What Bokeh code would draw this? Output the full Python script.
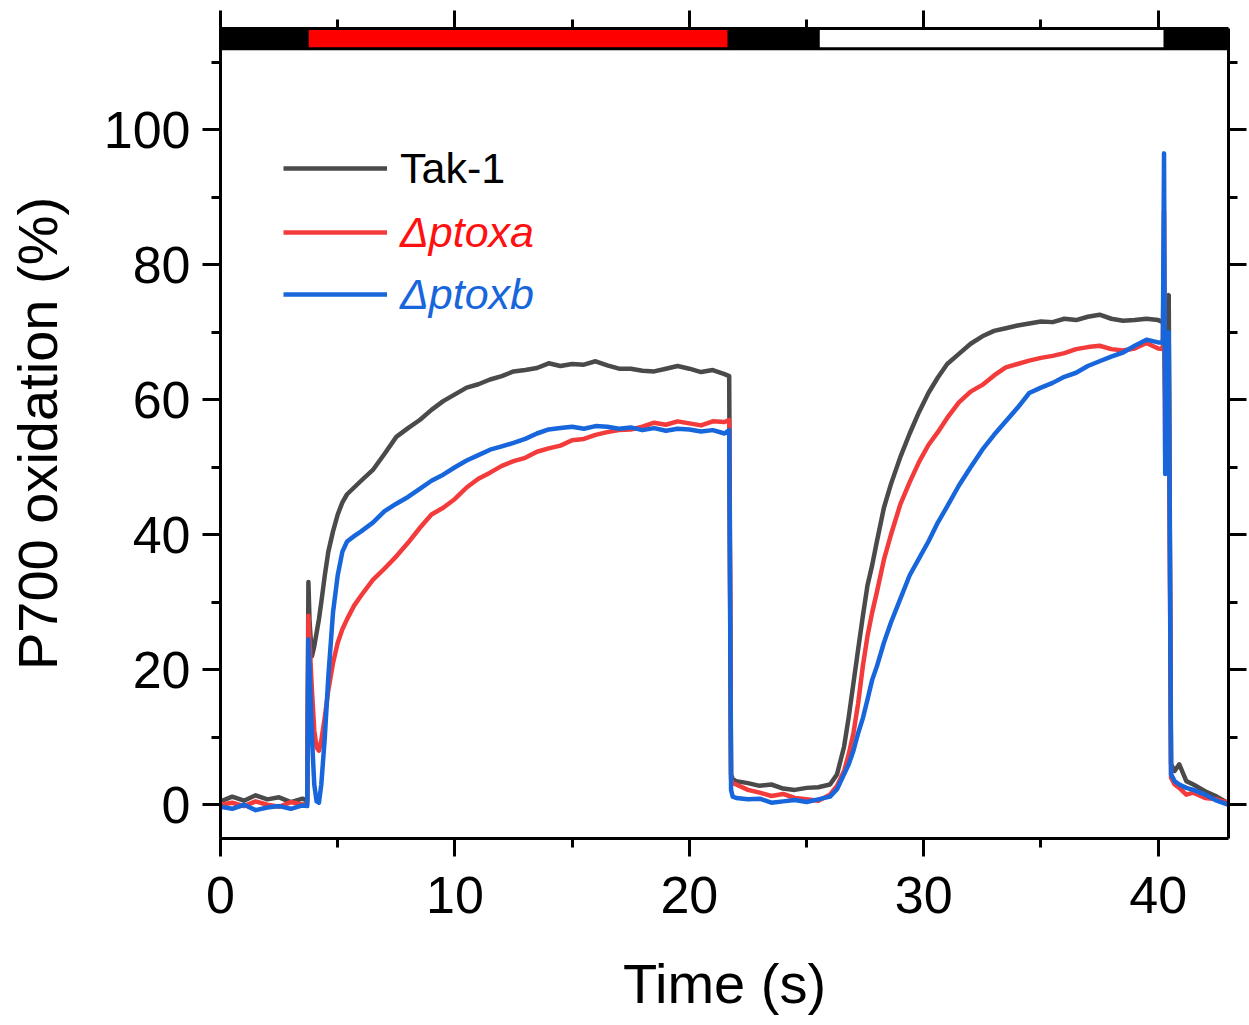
from bokeh.plotting import figure
from bokeh.models import (LinearAxis, SingleIntervalTicker, Legend, LegendItem,
                          Range1d, ColumnDataSource)
from bokeh.embed import file_html
from bokeh.resources import INLINE

# ---------------- data ----------------
time_s = [0.0, 0.5, 1.0, 1.5, 2.0, 2.5, 3.0, 3.5, 3.7, 3.75,
          3.8, 3.9, 4.0, 4.1, 4.2, 4.3, 4.45, 4.6, 4.8, 5.0,
          5.2, 5.4, 5.7, 6.0, 6.5, 7.0, 7.5, 8.0, 8.5, 9.0,
          9.5, 10.0, 10.5, 11.0, 11.5, 12.0, 12.5, 13.0, 13.5, 14.0,
          14.5, 15.0, 15.5, 16.0, 16.5, 17.0, 17.5, 18.0, 18.5, 19.0,
          19.5, 20.0, 20.5, 21.0, 21.5, 21.7, 21.78, 21.85, 22.0, 22.5,
          23.0, 23.5, 24.0, 24.5, 25.0, 25.5, 26.0, 26.3, 26.6, 26.8,
          27.0, 27.2, 27.4, 27.6, 27.8, 28.0, 28.3, 28.6, 29.0, 29.4,
          29.8, 30.2, 30.6, 31.0, 31.5, 32.0, 32.5, 33.0, 33.5, 34.0,
          34.5, 35.0, 35.5, 36.0, 36.5, 37.0, 37.5, 38.0, 38.5, 39.0,
          39.5, 40.0, 40.2, 40.25, 40.3, 40.35, 40.45, 40.55, 40.7, 40.9,
          41.2, 41.5, 42.0, 42.5, 43.0]

tak1 = [0.5, 1.2, 0.6, 1.4, 0.8, 1.1, 0.4, 0.9, 0.6, 33.0,
        27.0, 22.0, 23.5, 25.5, 27.5, 30.0, 34.0, 37.5, 40.5, 43.0,
        44.8, 46.0, 47.0, 48.0, 49.6, 52.0, 54.5, 55.8, 57.0, 58.5,
        59.8, 60.8, 61.8, 62.3, 63.0, 63.5, 64.2, 64.4, 64.7, 65.4,
        65.0, 65.3, 65.2, 65.7, 65.1, 64.6, 64.6, 64.3, 64.2, 64.6,
        65.0, 64.6, 64.1, 64.4, 63.8, 63.5, 4.5, 3.8, 3.5, 3.2,
        2.8, 3.0, 2.4, 2.2, 2.5, 2.6, 3.0, 4.5, 8.6, 13.0,
        18.0, 23.0, 27.9, 32.5, 35.5, 39.0, 44.0, 47.5, 51.5, 55.0,
        58.2, 61.0, 63.3, 65.3, 66.8, 68.3, 69.4, 70.2, 70.6, 71.0,
        71.3, 71.6, 71.5, 72.0, 71.8, 72.3, 72.6, 72.0, 71.7, 71.8,
        72.0, 71.8, 71.5, 72.0, 60.0, 70.0, 75.5, 6.0, 5.0, 6.0,
        3.5, 3.0, 2.0, 1.2, 0.2]

ptoxa = [0.0, 0.3, -0.2, 0.5, 0.0, -0.3, 0.4, 0.0, 0.2, 28.0,
         24.0, 17.0, 11.0, 8.5, 8.0, 9.5, 13.0, 17.0, 21.0, 24.0,
         26.0, 27.5, 29.5, 31.0, 33.3, 35.0, 36.8, 38.8, 41.0, 43.0,
         44.0, 45.3, 47.0, 48.3, 49.2, 50.2, 50.9, 51.4, 52.3, 52.8,
         53.2, 54.0, 54.2, 54.8, 55.2, 55.5, 55.6, 56.0, 56.6, 56.3,
         56.8, 56.5, 56.2, 56.8, 56.7, 57.0, 3.8, 3.2, 3.0, 2.2,
         1.8, 1.3, 1.6, 1.0, 0.8, 0.6, 1.5, 2.8, 5.0, 7.5,
         10.6, 15.0, 20.5, 25.0, 28.5, 31.5, 36.3, 40.0, 44.5, 47.8,
         50.8, 53.3, 55.2, 57.3, 59.6, 61.2, 62.2, 63.6, 64.8, 65.3,
         65.8, 66.2, 66.5, 66.9, 67.5, 67.8, 68.0, 67.5, 67.3, 67.6,
         68.4, 67.6, 67.5, 88.0, 52.0, 68.0, 66.0, 4.0, 3.0, 2.5,
         1.5, 1.8, 1.0, 0.8, 0.3]

ptoxb = [-0.3, -0.6, 0.0, -0.8, -0.4, -0.2, -0.6, -0.1, -0.2, 24.5,
         20.0, 10.0, 3.0, 0.5, 0.3, 3.0, 10.0, 19.0, 28.5, 34.0,
         37.5, 39.0, 39.8, 40.5, 41.8, 43.5, 44.6, 45.6, 46.8, 48.0,
         48.9, 50.0, 51.0, 51.8, 52.6, 53.1, 53.6, 54.2, 55.0, 55.6,
         55.8, 56.0, 55.7, 56.1, 56.0, 55.7, 55.9, 55.5, 55.8, 55.4,
         55.7, 55.6, 55.3, 55.5, 55.0, 55.5, 2.2, 1.2, 1.0, 0.8,
         0.9, 0.3, 0.5, 0.7, 0.4, 0.8, 1.2, 2.3, 4.5, 6.0,
         8.0, 10.6, 12.8, 15.6, 18.5, 20.5, 24.0, 27.0, 30.5, 34.0,
         36.5, 39.0, 41.8, 44.2, 47.3, 50.0, 52.6, 54.8, 56.8, 58.8,
         61.0, 61.8, 62.5, 63.4, 64.0, 65.0, 65.7, 66.4, 67.0, 68.0,
         68.9, 68.5, 68.5, 96.5, 49.0, 69.0, 70.0, 4.5, 3.5, 3.0,
         2.5, 2.2, 1.5, 0.6, 0.0]

series_names = ["Tak-1", "\u0394ptoxa", "\u0394ptoxb"]

# light-protocol bar along the top
bar_start = [0.0, 3.7, 21.7, 25.5, 40.3]
bar_end = [3.7, 21.7, 25.5, 40.3, 43.0]
bar_color = ["#000000", "#ff0000", "#000000", "#ffffff", "#000000"]
bar_bottom = 112
bar_top = 115

x_ticks_interval = 10
y_ticks_interval = 20

assert len(time_s) == len(tak1) == len(ptoxa) == len(ptoxb)

# ---------------- figure ----------------
FONT = "Liberation Sans"
p = figure(frame_width=1008, frame_height=810,
           x_range=Range1d(0, 43), y_range=Range1d(-5, 115),
           output_backend="svg", toolbar_location=None,
           x_axis_location=None, y_axis_location=None,
           min_border_left=220, min_border_right=20,
           min_border_top=28, min_border_bottom=187)
p.grid.grid_line_color = None
p.outline_line_color = None
p.background_fill_color = "white"
p.border_fill_color = "white"

src = ColumnDataSource(dict(t=time_s, a=tak1, b=ptoxa, c=ptoxb))
r_tak = p.line("t", "a", source=src, line_color="#4a4a4a", line_width=4.5, line_join="round")
r_a = p.line("t", "b", source=src, line_color="#f43b3b", line_width=4.5, line_join="round")
r_b = p.line("t", "c", source=src, line_color="#1766dc", line_width=4.5, line_join="round")

bar_src = ColumnDataSource(dict(left=bar_start, right=bar_end, color=bar_color))
p.quad(left="left", right="right", bottom=bar_bottom, top=bar_top, source=bar_src,
       fill_color="color", line_color="black", line_width=3)


def style_axis(ax, labels=True):
    ax.axis_line_width = 3
    ax.axis_line_color = "black"
    ax.major_tick_line_width = 3
    ax.minor_tick_line_width = 3
    ax.major_tick_in = 0
    ax.minor_tick_in = 0
    ax.major_tick_out = 18
    ax.minor_tick_out = 9
    if labels:
        ax.major_label_text_font = FONT
        ax.major_label_text_font_size = "52px"
        ax.major_label_text_color = "black"
        ax.major_label_standoff = 10
        ax.axis_label_text_font = FONT
        ax.axis_label_text_font_size = "56px"
        ax.axis_label_text_font_style = "normal"
        ax.axis_label_text_color = "black"
    else:
        ax.major_label_text_font_size = "1px"
        ax.major_label_text_color = None
        ax.major_label_standoff = 0


xb = LinearAxis(ticker=SingleIntervalTicker(interval=x_ticks_interval, num_minor_ticks=2),
                axis_label="Time (s)")
style_axis(xb)
xb.major_label_standoff = 20
xb.axis_label_standoff = 36
p.add_layout(xb, "below")

xt = LinearAxis(ticker=SingleIntervalTicker(interval=x_ticks_interval, num_minor_ticks=2))
style_axis(xt, labels=False)
p.add_layout(xt, "above")

yl = LinearAxis(ticker=SingleIntervalTicker(interval=y_ticks_interval, num_minor_ticks=2),
                axis_label="P700 oxidation (%)")
style_axis(yl)
yl.major_label_standoff = 12
yl.axis_label_standoff = 32
p.add_layout(yl, "left")

yr = LinearAxis(ticker=SingleIntervalTicker(interval=y_ticks_interval, num_minor_ticks=2))
style_axis(yr, labels=False)
p.add_layout(yr, "right")

# legends: one per entry so each label can keep its own colour/style
legend_specs = [
    (series_names[0], r_tak, "black", "normal", 645),
    (series_names[1], r_a, "#ff1010", "italic", 581),
    (series_names[2], r_b, "#1766dc", "italic", 519),
]
for name, rend, col, style, ypos in legend_specs:
    lg = Legend(items=[LegendItem(label=name, renderers=[rend])],
                location=(63, ypos))
    lg.label_text_font = FONT
    lg.label_text_font_size = "43px"
    lg.label_text_color = col
    lg.label_text_font_style = style
    lg.glyph_width = 104
    lg.glyph_height = 50
    lg.label_height = 50
    lg.label_standoff = 13
    lg.padding = 0
    lg.margin = 0
    lg.spacing = 0
    lg.border_line_alpha = 0
    lg.background_fill_alpha = 0
    p.add_layout(lg)

open("out.html", "w").write(file_html(p, INLINE))
